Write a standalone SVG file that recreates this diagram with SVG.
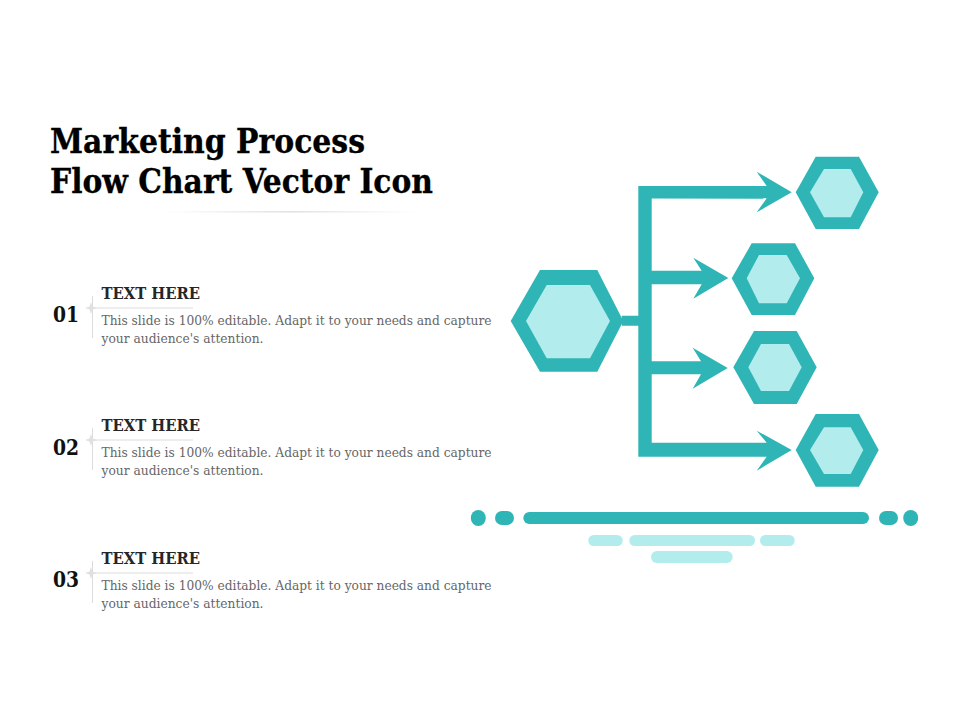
<svg xmlns="http://www.w3.org/2000/svg" width="960" height="720" viewBox="0 0 960 720">
<style>
text{font-family:"DejaVu Serif","Liberation Serif",serif;font-stretch:condensed}
.t{font-size:34px;font-weight:700;fill:#000;stroke:#000;stroke-width:.3px}
.n{font-size:23px;font-weight:700;fill:#111}
.h{font-size:17px;font-weight:700;fill:#262626}
.d{font-size:13px;fill:#666}
.o{fill:#2fb5b5}
.i{fill:#b2ecec}
.g{stroke:#dcdcdc;stroke-width:1;fill:none}
.s{fill:#e0e0e0}
</style>
<defs>
<linearGradient id="fade"><stop offset="0" stop-color="#e2e2e2" stop-opacity="0"/><stop offset=".5" stop-color="#e2e2e2"/><stop offset="1" stop-color="#e2e2e2" stop-opacity="0"/></linearGradient>
<path id="star" d="M0-6 1.500-1.500 6 0 1.500 1.500 0 6-1.500 1.500-6 0-1.500-1.500Z"/>
</defs>
<rect width="960" height="720" fill="#fff"/>
<g id="title">
<text class="t" x="50" y="153" textLength="315" lengthAdjust="spacingAndGlyphs">Marketing Process</text>
<text class="t" x="50" y="193" textLength="383" lengthAdjust="spacingAndGlyphs">Flow Chart Vector Icon</text>
<rect x="165" y="211" width="252" height="1.6" fill="url(#fade)"/>
</g>
<g id="item1">
<path class="g" d="M92.500 296V338M88 308H193"/><use href="#star" class="s" x="91" y="308"/>
<text class="n" x="53" y="322" textLength="26" lengthAdjust="spacingAndGlyphs">01</text>
<text class="h" x="101.500" y="299" textLength="98.500" lengthAdjust="spacingAndGlyphs">TEXT HERE</text>
<text class="d" x="101.500" y="325" textLength="390" lengthAdjust="spacingAndGlyphs">This slide is 100% editable. Adapt it to your needs and capture</text>
<text class="d" x="101.500" y="343" textLength="162" lengthAdjust="spacingAndGlyphs">your audience's attention.</text>
</g>
<g id="item2">
<path class="g" d="M92.500 428V470M88 440H193"/><use href="#star" class="s" x="91" y="440"/>
<text class="n" x="53" y="455" textLength="26" lengthAdjust="spacingAndGlyphs">02</text>
<text class="h" x="101.500" y="431" textLength="98.500" lengthAdjust="spacingAndGlyphs">TEXT HERE</text>
<text class="d" x="101.500" y="457" textLength="390" lengthAdjust="spacingAndGlyphs">This slide is 100% editable. Adapt it to your needs and capture</text>
<text class="d" x="101.500" y="475" textLength="162" lengthAdjust="spacingAndGlyphs">your audience's attention.</text>
</g>
<g id="item3">
<path class="g" d="M92.500 561V603M88 573H193"/><use href="#star" class="s" x="91" y="573"/>
<text class="n" x="53" y="587" textLength="26" lengthAdjust="spacingAndGlyphs">03</text>
<text class="h" x="101.500" y="564" textLength="98.500" lengthAdjust="spacingAndGlyphs">TEXT HERE</text>
<text class="d" x="101.500" y="590" textLength="390" lengthAdjust="spacingAndGlyphs">This slide is 100% editable. Adapt it to your needs and capture</text>
<text class="d" x="101.500" y="608" textLength="162" lengthAdjust="spacingAndGlyphs">your audience's attention.</text>
</g>
<g id="connectors" class="o">
<path d="M621.700 315.700H638.300V186H766.700L756.700 171.700 791.700 192.300 756.700 212.300 766.700 198.300 651.700 198.500V270.700H701.700L693.300 257.700 728.300 278 693.300 298.700 701.700 284.300H651.700V361.300H701L692.700 347.700 727.700 368 692.700 388.700 701 374.300H651.700V442.700H766.700L756.700 430.700 791.700 450 756.700 470.700 766.700 456.700H638.300V325.700H621.700Z"/>
</g>
<g id="hex-main">
<path class="o" d="M510.700 321 540 270H597.300L623.300 321 597.300 371.700H540Z"/>
<path class="i" d="M526 321 546.700 285H590L610 321 590 358.300H546.700Z"/>
</g>
<g id="hex-1">
<path class="o" d="M795.700 192.300 815.700 156.700H859L878.700 192.300 859 229H815.700Z"/>
<path class="i" d="M810 192.300 824 169H850.700L863.300 192.300 850.700 217.300H824Z"/>
</g>
<g id="hex-2">
<path class="o" d="M731.700 278.300 751.700 243.300H795L814.300 278.300 795 315H751.700Z"/>
<path class="i" d="M746.700 278.300 759 255H786.700L800 278.300 786.700 303.300H759Z"/>
</g>
<g id="hex-3">
<path class="o" d="M733.300 367.300 754 331H796.700L816.700 367.300 796.700 404H754Z"/>
<path class="i" d="M748.300 367.300 761 344H789L801.700 367.300 789 391H761Z"/>
</g>
<g id="hex-4">
<path class="o" d="M795.700 450 815.700 414H859L878.700 450 859 486.700H815.700Z"/>
<path class="i" d="M810 450 824 427.300H850.700L863.300 450 850.700 474H824Z"/>
</g>
<g id="base">
<ellipse class="o" cx="478.300" cy="518" rx="7.500" ry="8"/>
<rect class="o" x="495" y="511" width="19" height="14" rx="7"/>
<rect class="o" x="523.300" y="512" width="345.700" height="12" rx="6"/>
<rect class="o" x="879" y="511" width="19" height="14" rx="7"/>
<ellipse class="o" cx="910.700" cy="518" rx="7.500" ry="8"/>
<rect class="i" x="588.300" y="535" width="34.400" height="11" rx="5.500"/>
<rect class="i" x="629.300" y="535" width="125.700" height="11" rx="5.500"/>
<rect class="i" x="760" y="535" width="34.700" height="11" rx="5.500"/>
<rect class="i" x="651" y="551" width="81.700" height="12" rx="6"/>
</g>
</svg>
